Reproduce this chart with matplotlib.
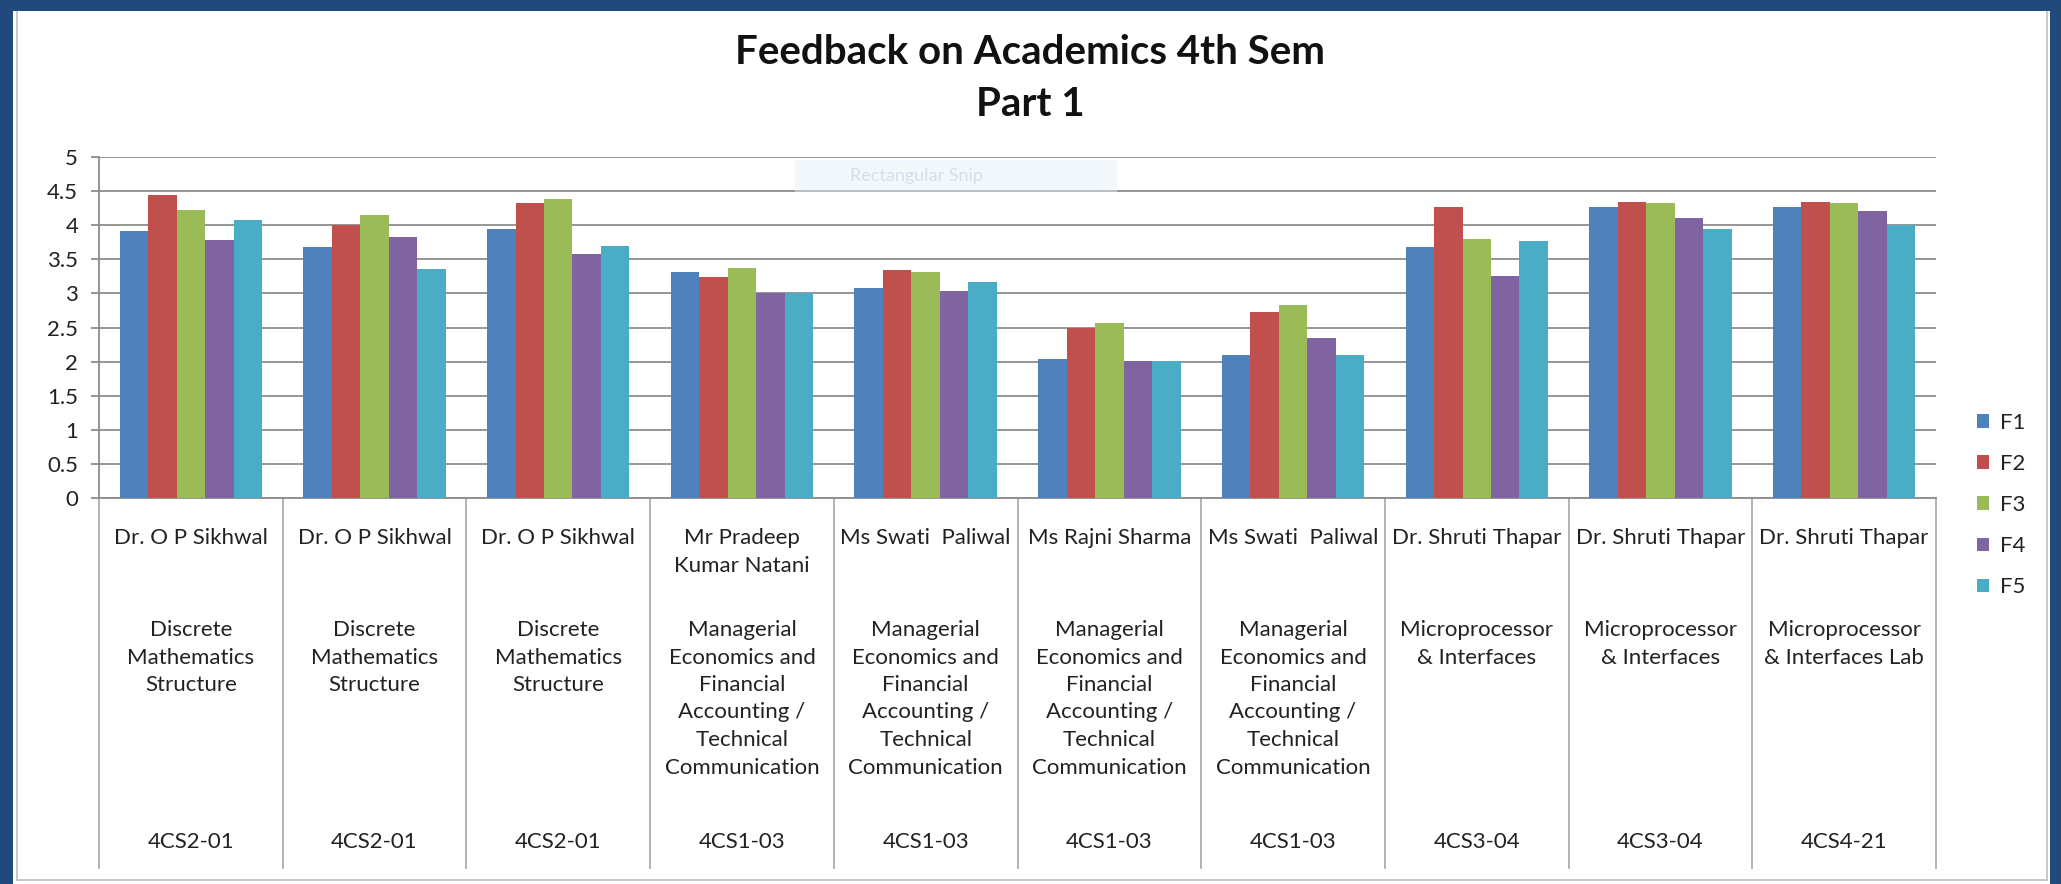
import numpy as np
import matplotlib
matplotlib.use("Agg")
import matplotlib.pyplot as plt
from matplotlib.patches import Rectangle, Patch
from matplotlib.transforms import blended_transform_factory
from matplotlib.ticker import FuncFormatter

# ---------------- data ----------------
faculty = ["Dr. O P Sikhwal", "Dr. O P Sikhwal", "Dr. O P Sikhwal",
           "Mr Pradeep\nKumar Natani", "Ms Swati  Paliwal", "Ms Rajni Sharma",
           "Ms Swati  Paliwal", "Dr. Shruti Thapar", "Dr. Shruti Thapar",
           "Dr. Shruti Thapar"]
mec = "Managerial\nEconomics and\nFinancial\nAccounting /\nTechnical\nCommunication"
subjects = ["Discrete\nMathematics\nStructure"] * 3 + [mec] * 4 + \
           ["Microprocessor\n& Interfaces", "Microprocessor\n& Interfaces",
            "Microprocessor\n& Interfaces Lab"]
codes = ["4CS2-01", "4CS2-01", "4CS2-01", "4CS1-03", "4CS1-03", "4CS1-03",
         "4CS1-03", "4CS3-04", "4CS3-04", "4CS4-21"]

series_names = ["F1", "F2", "F3", "F4", "F5"]
F1 = [3.91, 3.68, 3.94, 3.31, 3.08, 2.04, 2.09, 3.68, 4.26, 4.26]
F2 = [4.44, 4.01, 4.33, 3.24, 3.34, 2.50, 2.72, 4.26, 4.34, 4.34]
F3 = [4.23, 4.15, 4.38, 3.37, 3.31, 2.57, 2.83, 3.80, 4.32, 4.32]
F4 = [3.79, 3.82, 3.58, 3.00, 3.03, 2.01, 2.35, 3.25, 4.10, 4.21]
F5 = [4.08, 3.36, 3.69, 3.00, 3.16, 2.01, 2.09, 3.77, 3.94, 4.01]
series = [F1, F2, F3, F4, F5]
colors = ["#4F81BD", "#C0504D", "#9BBB59", "#8064A2", "#4BACC6"]

title_lines = ["Feedback on Academics 4th Sem", "Part 1"]

# ---------------- figure ----------------
W, H = 2061, 884
plt.rcParams["font.family"] = ["Lato", "DejaVu Sans"]
fig = plt.figure(figsize=(W / 100, H / 100), dpi=100)
fig.patch.set_facecolor("white")

def fx(px):
    return px / W

def fy(py):
    return (H - py) / H

ax_left, ax_right, ax_top, ax_bot = 99, 1936, 157, 498
ax = fig.add_axes([fx(ax_left), fy(ax_bot), fx(ax_right - ax_left),
                   (ax_bot - ax_top) / H])

n = len(faculty)
x = np.arange(n) + 0.5
bw = 0.155
for j, (vals, c, name) in enumerate(zip(series, colors, series_names)):
    ax.bar(x + (j - 2) * bw, vals, width=bw, color=c, label=name, zorder=3)

ax.set_xlim(0, n)
ax.set_ylim(0, 5)
ax.set_yticks(np.arange(0, 5.01, 0.5))
ax.yaxis.set_major_formatter(FuncFormatter(lambda v, p: f"{v:g}"))
ax.set_xticks([])
grid_c = "#8c8c8c"
ax.yaxis.grid(True, color=grid_c, linewidth=1.3, zorder=0)
ax.set_axisbelow(True)
for s in ["top", "right"]:
    ax.spines[s].set_visible(False)
ax.spines["left"].set_color(grid_c)
ax.spines["left"].set_linewidth(1.3)
ax.spines["bottom"].set_color(grid_c)
ax.spines["bottom"].set_linewidth(1.3)
ax.tick_params(axis="y", direction="out", length=6, width=1.3, color=grid_c,
               labelsize=16, labelcolor="#222222", pad=9)

# ---------------- data table under axis ----------------
tr = blended_transform_factory(ax.transData, fig.transFigure)
table_bottom = 868
line_c = "#a6a6a6"
for b in range(n + 1):
    ax.plot([b, b], [fy(ax_bot), fy(table_bottom)], color=line_c, lw=1.2,
            transform=tr, clip_on=False, zorder=1)

txt_c = "#222222"
fs = 16
lh = 27.5
for i in range(n):
    for k, line in enumerate(faculty[i].split("\n")):
        ax.text(x[i], fy(538 + k * lh), line, transform=tr, ha="center",
                va="center", fontsize=fs, color=txt_c)
    for k, line in enumerate(subjects[i].split("\n")):
        ax.text(x[i], fy(630 + k * lh), line, transform=tr, ha="center",
                va="center", fontsize=fs, color=txt_c)
    ax.text(x[i], fy(842), codes[i], transform=tr, ha="center", va="center",
            fontsize=fs, color=txt_c)

# ---------------- title ----------------
fig.text(fx(1030), fy(52), title_lines[0], ha="center", va="center",
         fontsize=29, fontweight="bold", color="#111111")
fig.text(fx(1030), fy(104), title_lines[1], ha="center", va="center",
         fontsize=29, fontweight="bold", color="#111111")

# ---------------- legend ----------------
handles = [Patch(facecolor=c, edgecolor="none") for c in colors]
fig.legend(handles, series_names, loc="center left",
           bbox_to_anchor=(fx(1977), fy(505)), frameon=False,
           fontsize=fs, handlelength=0.55, handleheight=0.55,
           handletextpad=0.5, labelspacing=0.95, borderpad=0,
           borderaxespad=0, labelcolor=txt_c)

# ---------------- faint screen-snip overlay ----------------
fig.patches.append(Rectangle((fx(795), fy(192)), fx(322), 32 / H,
                             transform=fig.transFigure, facecolor="#e6f0fa",
                             alpha=0.45, edgecolor="none", zorder=10))
fig.text(fx(850), fy(176), "Rectangular Snip", ha="left", va="center",
         fontsize=13, color="#d3e0ec", zorder=11)

# ---------------- frame ----------------
border_c = "#bfbfbf"
fig.add_artist(plt.Line2D([fx(17), fx(17)], [fy(880), fy(12)],
                          transform=fig.transFigure, color=border_c, lw=1.2))
fig.add_artist(plt.Line2D([fx(17), fx(2047)], [fy(880), fy(880)],
                          transform=fig.transFigure, color=border_c, lw=1.2))
fig.add_artist(plt.Line2D([fx(2047), fx(2047)], [fy(880), fy(12)],
                          transform=fig.transFigure, color=border_c, lw=1.2))
blue = "#22497c"
for (x0, y0, w, h) in [(0, 0, 13, H), (0, 0, W, 11), (2050, 0, 11, H)]:
    fig.patches.append(Rectangle((fx(x0), fy(y0 + h)), w / W, h / H,
                                 transform=fig.transFigure, facecolor=blue,
                                 edgecolor="none", zorder=20))

fig.savefig("out.png", dpi=100, facecolor="white")
